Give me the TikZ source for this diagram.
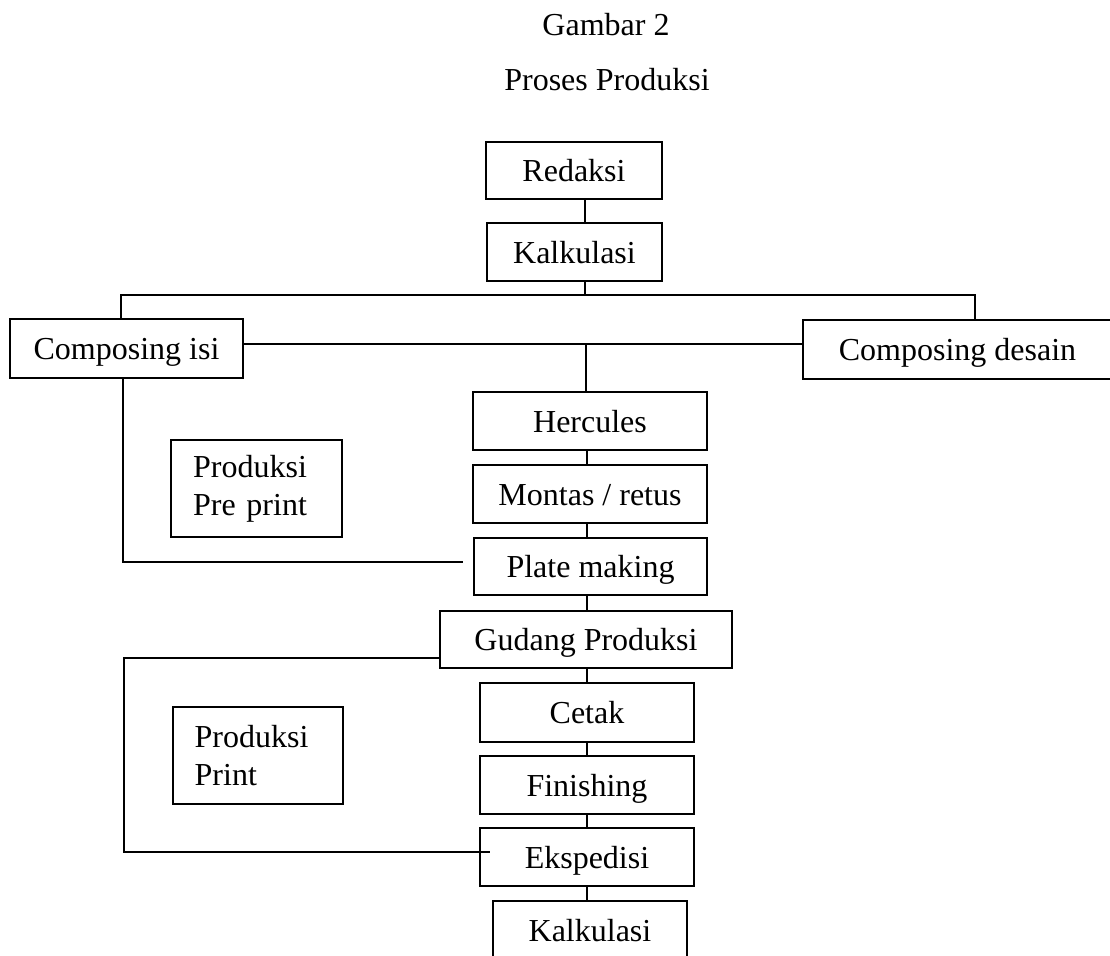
\documentclass[tikz,border=0pt]{standalone}
\usepackage{fontspec}
\setmainfont{Liberation Serif}
\tikzset{
  lbl/.style={font=\fontsize{24}{28.5}\selectfont},
  pbox/.style={draw, line width=1.4pt, inner sep=0pt, font=\fontsize{24}{28.5}\selectfont, text height=17.2pt, text depth=0pt},
  tbox/.style={draw, line width=1.4pt, inner sep=0pt, font=\fontsize{24}{28.5}\selectfont, align=left, text width=95pt, minimum height=72.75pt},
  conn/.style={draw, line width=1.4pt}
}
\begin{document}
\begin{tikzpicture}[x=0.75pt, y=-0.75pt]
\useasboundingbox (0,0) rectangle (1110,956);
\fill[white] (0,0) rectangle (1110,956);

% titles
\node[lbl, anchor=base] (title1) at (606,36) {Gambar 2};
\node[lbl, anchor=base] (title2) at (607,90) {Proses Produksi};

% boxes
\node[pbox, minimum width=132pt, minimum height=42.75pt] (redaksi) at (574,170.5) {Redaksi};
\node[pbox, minimum width=131.25pt, minimum height=43.5pt] (kalk1) at (574.5,252) {Kalkulasi};
\node[pbox, minimum width=174.75pt, minimum height=44.25pt] (cisi) at (126.5,348.5) {Composing isi};
\node[pbox, minimum width=231.75pt, minimum height=44.25pt] (cdesain) at (957.5,349.5) {Composing desain};
\node[pbox, minimum width=175.5pt, minimum height=43.5pt] (hercules) at (590,421) {Hercules};
\node[pbox, minimum width=175.5pt, minimum height=43.5pt] (montas) at (590,494) {Montas / retus};
\node[pbox, minimum width=174.75pt, minimum height=42.75pt] (plate) at (590.5,566.5) {Plate making};
\node[tbox, minimum width=128.25pt] (preprint) at (256.5,488.5) {Produksi\\Pre print};
\node[pbox, minimum width=219pt, minimum height=42.75pt] (gudang) at (586,639.5) {Gudang Produksi};
\node[pbox, minimum width=160.5pt, minimum height=44.25pt] (cetak) at (587,712.5) {Cetak};
\node[pbox, minimum width=160.5pt, minimum height=43.5pt] (finishing) at (587,785) {Finishing};
\node[pbox, minimum width=160.5pt, minimum height=43.5pt] (ekspedisi) at (587,857) {Ekspedisi};
\node[pbox, minimum width=145.5pt, minimum height=44.25pt] (kalk2) at (590,930.5) {Kalkulasi};
\node[tbox, minimum width=127.5pt] (print) at (258,755.5) {Produksi\\Print};

% helper coordinates
\coordinate (tm) at (585,295);
\coordinate (t1) at (121,295);
\coordinate (t2) at (975,295);
\coordinate (mm) at (586,344);
\coordinate (sp) at (587,0);
\coordinate (l1) at (123,562);
\coordinate (l2) at (124,658);
\coordinate (l3) at (124,852);

% connectors
\draw[conn] (redaksi.south -| tm) -- (kalk1.north -| tm);
\draw[conn] (kalk1.south -| tm) -- (tm);
\draw[conn] (cisi.north -| t1) -- (t1) -- (t2) -- (cdesain.north -| t2);
\draw[conn] (cisi.east |- mm) -- (cdesain.west |- mm);
\draw[conn] (mm) -- (hercules.north -| mm);
\draw[conn] (hercules.south -| sp) -- (montas.north -| sp);
\draw[conn] (montas.south -| sp) -- (plate.north -| sp);
\draw[conn] (plate.south -| sp) -- (gudang.north -| sp);
\draw[conn] (gudang.south -| sp) -- (cetak.north -| sp);
\draw[conn] (cetak.south -| sp) -- (finishing.north -| sp);
\draw[conn] (finishing.south -| sp) -- (ekspedisi.north -| sp);
\draw[conn] (ekspedisi.south -| sp) -- (kalk2.north -| sp);
\draw[conn] (cisi.south -| l1) -- (l1) -- ([xshift=-7.5pt]plate.west |- l1);
\draw[conn] (gudang.west |- l2) -- (l2) -- (l3) -- ([xshift=8pt]ekspedisi.west |- l3);
\end{tikzpicture}
\end{document}
